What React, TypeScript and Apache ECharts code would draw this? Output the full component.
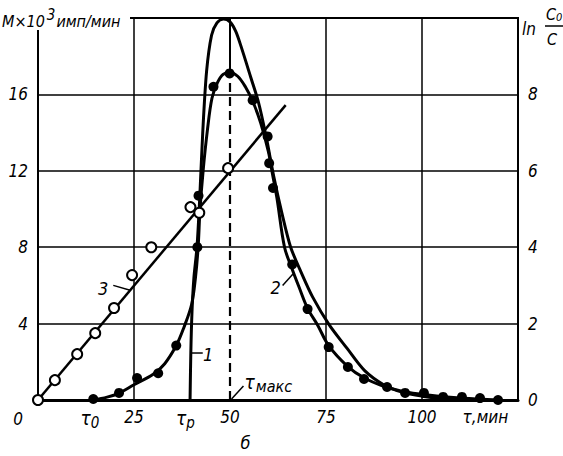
import React, { useEffect, useRef } from 'react';
import * as echarts from 'echarts';

// Curve 1 (no markers), left axis M x 10^3 imp/min
const curve1: number[][] = [
  [39.6, 0], [39.8, 2.5], [40.1, 4.6], [40.6, 6.4], [41.4, 8], [42.1, 10.5], [42.9, 14],
  [43.9, 17.2], [45.2, 19.1], [46.6, 19.75], [48.3, 19.95], [50, 19.8], [51.5, 19.3], [52.9, 18.5],
  [55.4, 16.9], [57.4, 15.6], [59.4, 13.8], [61.4, 11.7], [63.5, 9.8], [65.8, 8],
  [68.5, 6.7], [71.5, 5.4], [75.8, 3.95], [80.5, 2.7], [85, 1.55], [90, 0.8], [95, 0.4],
  [100, 0.2], [105, 0.08], [110, 0.02], [113, 0],
];

// Curve 2 fitted line, left axis
const curve2: number[][] = [
  [14.4, 0], [18, 0.15], [21, 0.35], [25, 0.8], [30, 1.35], [33, 1.9], [36, 2.85], [38, 3.8],
  [40, 5.0], [41, 6.4], [41.7, 8], [42.2, 10], [43, 12], [44.1, 14.1], [45.3, 15.8],
  [46.7, 16.6], [48.2, 17.05], [50, 17.15], [52, 16.95], [54, 16.4], [56, 15.6], [58, 14.5],
  [60, 13], [61, 11.9], [62.2, 10.6], [64.2, 8.0], [66.1, 6.9], [68, 5.9], [70.2, 4.8],
  [72.8, 3.93], [75.7, 2.85], [80.7, 1.75], [85, 1.15], [90, 0.72], [95, 0.45], [100, 0.3],
  [105, 0.18], [110, 0.1], [115, 0.05], [120, 0],
];

// Curve 2 measured points (filled dots), left axis
const dots2: number[][] = [
  [14.4, 0.05], [21.1, 0.37], [25.8, 1.15], [31.3, 1.4], [36, 2.85], [41.5, 8], [41.8, 10.7],
  [45.7, 16.4], [49.9, 17.1], [55.9, 15.7], [59.8, 13.8], [60.2, 12.4], [61.2, 11.1],
  [66.2, 7.1], [70.2, 4.76], [75.7, 2.77], [80.7, 1.73], [84.9, 1.1], [90.9, 0.68],
  [95.6, 0.37], [100.5, 0.37], [105.5, 0.16], [110.4, 0.16], [115.1, 0.1], [119.8, 0.0],
];

// Curve 3: ln(C0/C), right axis
const curve3Line: number[][] = [[0, 0], [64.5, 7.72]];
const circles3: number[][] = [
  [0, 0], [4.4, 0.52], [10.2, 1.2], [14.9, 1.75], [19.8, 2.41], [24.5, 3.27], [29.5, 4.0],
  [39.7, 5.05], [42, 4.9], [49.5, 6.07],
];

const xTickValues = [13.5, 25, 38.4, 50, 75, 100, 116.5];
const xTickLabels = ['{t|τ}{s|0}', '25', '{t|τ}{s|p}', '50', '75', '100', 'τ,мин'];
const xGridValues = [25, 75, 100];
const T_MAX = 50;
const M_AT_TMAX = 17.1;

export default function App() {
  const ref = useRef<HTMLDivElement>(null);
  useEffect(() => {
    const chart = echarts.init(ref.current!, null, { renderer: 'svg' });
    const font = "'DejaVu Sans Condensed', 'Liberation Sans Narrow', 'DejaVu Sans', sans-serif";
    const txt = { fontFamily: font, fontStyle: 'italic', fontSize: 17, color: '#000' };
    chart.setOption({
      animation: false,
      backgroundColor: '#fff',
      textStyle: { fontFamily: font },
      grid: { left: 38, right: 45, top: 18, bottom: 56, show: true, borderColor: '#000', borderWidth: 2 },
      xAxis: {
        type: 'value', min: 0, max: 125, interval: 25,
        splitLine: { show: false },
        axisLine: { show: true, lineStyle: { color: '#000', width: 3 } },
        axisTick: { show: false },
        axisLabel: {
          customValues: xTickValues,
          margin: 8,
          ...txt,
          formatter: (v: number) => {
            const i = xTickValues.findIndex((x) => Math.abs(x - v) < 1e-6);
            return i >= 0 ? xTickLabels[i] : '';
          },
          rich: {
            t: { ...txt, fontSize: 19, verticalAlign: 'top', lineHeight: 22 },
            s: { ...txt, fontSize: 15, verticalAlign: 'bottom', lineHeight: 22, padding: [10, 0, 0, 0] },
          },
        },
      },
      yAxis: [
        {
          type: 'value', min: 0, max: 20, interval: 4,
          axisLine: { show: true, lineStyle: { color: '#000', width: 2 } },
          axisTick: { show: false },
          splitLine: { show: true, lineStyle: { color: '#000', width: 1.5 } },
          axisLabel: { ...txt, margin: 10, formatter: (v: number) => (v === 0 || v === 20 ? '' : String(v)) },
        },
        {
          type: 'value', min: 0, max: 10, interval: 2,
          axisLine: { show: true, lineStyle: { color: '#000', width: 2 } },
          axisTick: { show: false },
          splitLine: { show: false },
          axisLabel: { ...txt, margin: 10, formatter: (v: number) => (v === 10 ? '' : String(v)) },
        },
      ],
      series: [
        {
          name: '1', type: 'line', data: curve1, smooth: 0.3, showSymbol: false, symbol: 'none',
          lineStyle: { color: '#000', width: 3 }, z: 3,
          markLine: {
            silent: true, symbol: 'none', label: { show: false },
            lineStyle: { color: '#000', width: 1.5, type: 'solid' },
            data: [
              ...xGridValues.map((v) => ({ xAxis: v })),
              [
                { coord: [T_MAX, 0], lineStyle: { type: [9, 5], width: 2.2, color: '#000' } },
                { coord: [T_MAX, M_AT_TMAX] },
              ],
              [
                { coord: [T_MAX, M_AT_TMAX], lineStyle: { type: 'solid', width: 2, color: '#000' } },
                { coord: [T_MAX, 20] },
              ],
            ],
          },
        },
        {
          name: '2', type: 'line', data: curve2, smooth: 0.35, showSymbol: false, symbol: 'none',
          lineStyle: { color: '#000', width: 3 }, z: 3,
        },
        {
          name: '2pts', type: 'scatter', data: dots2, symbol: 'circle', symbolSize: 10,
          itemStyle: { color: '#000', opacity: 1 }, z: 5,
        },
        {
          name: '3', type: 'line', yAxisIndex: 1, data: curve3Line, showSymbol: false, symbol: 'none',
          lineStyle: { color: '#000', width: 2.5 }, z: 3,
        },
        {
          name: '3pts', type: 'scatter', yAxisIndex: 1, data: circles3, symbol: 'circle', symbolSize: 10,
          itemStyle: { color: '#fff', borderColor: '#000', borderWidth: 2, opacity: 1 }, z: 6,
        },
      ],
    });

    const px = (t: number, m: number) => chart.convertToPixel({ seriesIndex: 0 }, [t, m]) as number[];
    const o = px(0, 0);
    const lead = (a: number[], b: number[]) => ({
      type: 'line', z: 20, silent: true,
      shape: { x1: a[0], y1: a[1], x2: b[0], y2: b[1] },
      style: { stroke: '#000', lineWidth: 1.5 },
    });
    const label = (p: number[], text: string, align = 'center', size = 18) => ({
      type: 'text', z: 20, silent: true, x: p[0], y: p[1],
      style: { text, fontFamily: font, fontStyle: 'italic', fontSize: size, fill: '#000', align, verticalAlign: 'middle' },
    });
    chart.setOption({
      graphic: [
        { type: 'rect', z: 15, silent: true, shape: { x: 0, y: 4, width: 130, height: 26 }, style: { fill: '#fff' } },
        {
          type: 'text', z: 20, silent: true, x: 2, y: 18,
          style: {
            text: '{a|М×10}{b|3}{a|имп/мин}', verticalAlign: 'middle',
            rich: {
              a: { fontFamily: font, fontStyle: 'italic', fontSize: 16, fill: '#000', lineHeight: 20, padding: [6, 0, 0, 0] },
              b: { fontFamily: font, fontStyle: 'italic', fontSize: 15, fill: '#000', lineHeight: 20, padding: [0, 1, 6, 2] },
            },
          },
        },
        label([522, 29], 'ln', 'left', 17),
        {
          type: 'text', z: 20, silent: true, x: 546, y: 14,
          style: {
            text: '{c|C}{s|0}', align: 'left', verticalAlign: 'middle',
            rich: {
              c: { fontFamily: font, fontStyle: 'italic', fontSize: 16, fill: '#000' },
              s: { fontFamily: font, fontStyle: 'italic', fontSize: 11, fill: '#000', padding: [6, 0, 0, 0] },
            },
          },
        },
        { type: 'line', z: 20, silent: true, shape: { x1: 545, y1: 26, x2: 563, y2: 26 }, style: { stroke: '#000', lineWidth: 1.5 } },
        label([552, 39], 'C', 'center', 16),
        label([o[0] - 20, o[1] + 19], '0', 'center', 17),
        label(px(17, 5.86), '3'),
        lead(px(19.6, 6.0), px(24, 5.75)),
        label(px(44.3, 2.36), '1'),
        lead(px(39.9, 2.46), px(42.9, 2.46)),
        label(px(61.9, 5.9), '2'),
        lead(px(63.7, 6.0), px(66.4, 6.6)),
        lead(px(50.4, 0.05), px(53.5, 0.73)),
        {
          type: 'text', z: 20, silent: true, x: px(53.8, 0)[0], y: px(0, 0.85)[1],
          style: {
            text: '{t|τ}{s|макс}', verticalAlign: 'middle', align: 'left',
            rich: {
              t: { fontFamily: font, fontStyle: 'italic', fontSize: 19, fill: '#000', padding: [0, 1, 4, 0] },
              s: { fontFamily: font, fontStyle: 'italic', fontSize: 16, fill: '#000', padding: [6, 0, 0, 0] },
            },
          },
        },
        label([px(54, 0)[0], o[1] + 42], 'б', 'center', 18),
      ],
    });
    return () => chart.dispose();
  }, []);
  return (
    <div
      ref={ref}
      style={{ position: 'fixed', left: 0, top: 0, width: 563, height: 456, background: '#fff' }}
    />
  );
}
